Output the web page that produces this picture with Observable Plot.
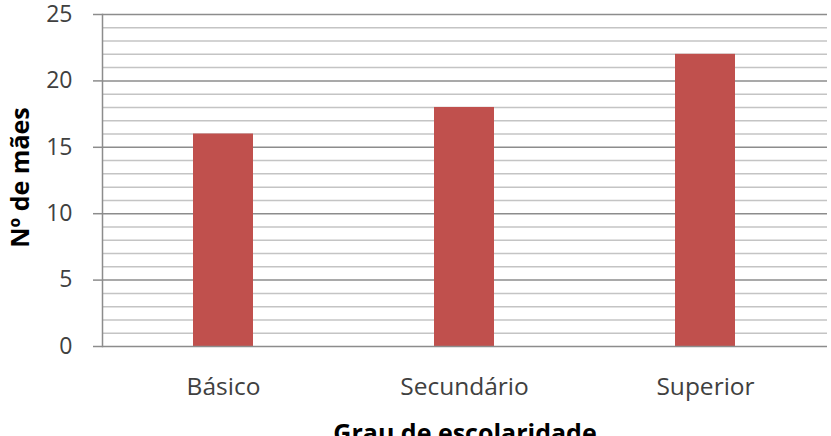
<!DOCTYPE html>
<html>
<head>
<meta charset="utf-8">
<script src="https://cdn.jsdelivr.net/npm/d3@7"></script>
<script src="https://cdn.jsdelivr.net/npm/@observablehq/plot@0.6"></script>
<style>
  html, body { margin: 0; padding: 0; background: #fff; }
</style>
</head>
<body>
<div id="chart"></div>
<script>
const categories = ["Básico", "Secundário", "Superior"];
const values = [16, 18, 22];
const majorTicks = [0, 5, 10, 15, 20, 25];
const minorTicks = [1, 2, 3, 4, 6, 7, 8, 9, 11, 12, 13, 14, 16, 17, 18, 19, 21, 22, 23, 24];
const yTitle = "Nº de mães";
const xTitle = "Grau de escolaridade";

const data = categories.map((c, i) => ({category: c, value: values[i]}));
const font = "'Open Sans', 'Noto Sans', sans-serif";

const chart = Plot.plot({
  width: 831,
  height: 436,
  marginLeft: 102,
  marginRight: 4,
  marginTop: 14,
  marginBottom: 90,
  style: {fontFamily: font, fontSize: "23px", background: "#fff", color: "#404040", overflow: "visible"},
  x: {domain: categories, paddingInner: 0.75, paddingOuter: 0.375, label: null},
  y: {domain: [0, 25], label: null},
  marks: [
    Plot.ruleY(minorTicks, {stroke: "#c4c4c4", strokeWidth: 1.5}),
    Plot.ruleY(majorTicks.filter(v => v > 0), {stroke: "#8c8c8c", strokeWidth: 1.5}),
    Plot.barY(data, {x: "category", y: "value", fill: "#C0504D"}),
    Plot.frame({anchor: "left", stroke: "#8c8c8c", strokeWidth: 1.5}),
    Plot.ruleY([0], {stroke: "#8c8c8c", strokeWidth: 1.5}),
    Plot.axisY(majorTicks, {ticks: majorTicks, tickSize: 9, tickPadding: 21, stroke: "#8c8c8c", strokeWidth: 1.5, fill: "#404040", fontSize: 23, label: null}),
    Plot.axisX({tickSize: 0, tickPadding: 31, fill: "#404040", fontSize: 24.5, label: null}),
    Plot.text([yTitle], {frameAnchor: "left", textAnchor: "middle", lineAnchor: "middle", dx: -82, dy: -3, rotate: -90, fontWeight: "bold", fontSize: 25, fill: "#000", text: d => d}),
    Plot.text([xTitle], {frameAnchor: "bottom", textAnchor: "middle", lineAnchor: "middle", dy: 87, fontWeight: "bold", fontSize: 25, fill: "#000", text: d => d})
  ]
});
document.getElementById("chart").appendChild(chart);
</script>
</body>
</html>
